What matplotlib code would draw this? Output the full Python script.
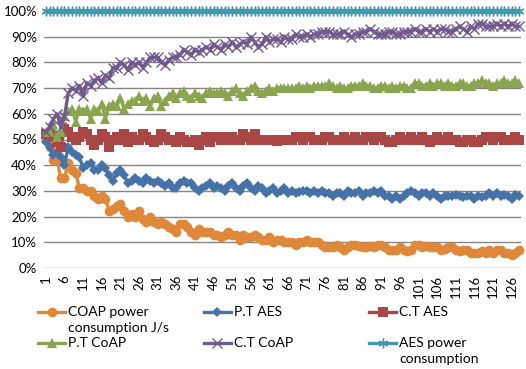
import matplotlib
matplotlib.use('Agg')
import matplotlib.pyplot as plt
from matplotlib.lines import Line2D
from matplotlib.ticker import PercentFormatter
import numpy as np

plt.rcParams['font.family'] = ['Lato', 'DejaVu Sans']

# values (percent)
coap_power = [
    50, 47, 42, 42, 35, 35, 41, 38, 37, 31,
    31, 30, 30, 28, 27, 28, 27, 22, 23, 24,
    25, 22, 20, 21, 20, 22, 19, 18, 20, 18,
    17, 18, 17, 16, 15, 14, 17, 17, 16, 14,
    13, 15, 14, 14, 14, 13, 13, 12, 13, 14,
    13, 13, 11, 13, 12, 12, 13, 12, 11, 11,
    12, 10, 11, 11, 10, 10, 10, 9, 10, 10,
    11, 10, 10, 10, 9, 8, 8, 8, 9, 8,
    7, 8, 9, 9, 8.5, 8, 8, 8.5, 8, 9,
    9, 8, 7, 7, 7, 8, 7, 6.5, 7, 9,
    9, 8, 8.5, 8, 8, 8, 7, 7.5, 8, 8,
    7, 6.5, 7, 7, 6, 6, 6, 6.5, 6, 7,
    6, 7, 7, 6, 6, 5, 6, 7]

pt_aes = [
    49, 47, 44, 45, 43, 40, 47, 45, 44, 43,
    39, 40, 41, 38, 38, 40, 39, 36, 34, 37,
    38, 36, 33, 34, 35, 34, 33, 35, 34, 33,
    34, 33, 32, 33, 31, 31, 33, 34, 33, 33,
    31, 30, 31, 32, 33, 31, 32, 31, 30, 32,
    33, 31, 30, 32, 33, 31, 30, 32, 31, 29,
    30, 31, 29, 30, 31, 29, 30, 29, 29.5, 30,
    30, 29, 30, 29, 30, 29, 29, 28, 29, 29,
    28, 30, 29, 29, 30, 28, 29, 29, 30, 29,
    30, 28, 28, 27, 28, 27, 28, 29, 30, 29,
    28, 29, 29, 28, 29, 28, 27, 28, 28, 28,
    28.5, 28, 27.5, 28, 28, 27, 28, 27.5, 28, 29,
    28, 29, 28, 28.5, 28, 27, 28.5, 28]

ct_aes = [
    52, 52, 51, 49, 47, 54, 53, 51, 50, 51,
    53, 52, 50, 48, 50, 52, 51, 47, 50, 51,
    50, 52, 49, 51, 50, 50, 52, 51, 50, 49,
    50, 52, 51, 50, 50, 49, 51, 50, 49, 49,
    50, 48, 50, 51, 49, 51, 51, 50, 51, 50,
    51, 50, 50, 52, 51, 50, 52, 50, 50, 50,
    50, 50, 49.5, 50, 50, 50, 50, 51, 51, 50,
    51, 51, 50, 50, 50, 51, 51, 50, 50, 50,
    51, 50, 50, 51, 50, 50, 51, 51, 50, 51,
    51, 50, 49, 49, 50, 51, 50, 50, 51, 50,
    50, 51, 50, 49, 50, 51, 50, 50, 51, 50,
    50, 49, 49, 50, 50, 49, 49, 50, 51, 51,
    50, 51, 51, 50, 50, 50, 51, 50]

pt_coap = [
    53, 53, 56, 51, 53, 59, 61, 62, 57, 62,
    61, 62, 58, 62, 61, 64, 58, 63, 64, 63,
    66, 62, 64, 65, 65, 67, 65, 66, 63, 66,
    67, 63, 65, 67, 68, 66, 68, 69, 67, 66,
    68, 67, 66, 68, 69, 68, 68, 69, 68, 67,
    69, 70, 68, 67, 69, 70, 71, 69, 68, 69,
    70, 69, 70, 70, 70, 70, 70, 70, 71, 70,
    71, 70, 71, 71, 71, 71, 72, 71, 70, 71,
    70, 70, 71, 71, 71, 72, 71, 71, 70, 70,
    71, 71, 70, 71, 70, 71, 71, 70, 70, 72,
    72, 71, 71, 72, 71, 72, 72, 71, 72, 71,
    71, 72, 72, 71, 71, 72, 72, 73, 72, 72,
    71, 72, 72, 73, 72, 72, 73, 72]

ct_coap = [
    53, 55, 58, 60, 55, 59, 68, 70, 69, 71,
    67, 72, 71, 73, 74, 72, 75, 74, 78, 78,
    80, 79, 77, 80, 79, 80, 78, 80, 82, 82,
    82, 80, 79, 81, 82, 82, 83, 85, 84, 83,
    85, 84, 85, 86, 85, 87, 86, 85, 87, 86,
    88, 86, 87, 88, 87, 90, 88, 86, 87, 90,
    88, 89, 89, 88, 90, 89, 89, 91, 90, 90,
    91, 90, 91, 91, 92, 92, 92, 91, 91, 91,
    92, 91, 90, 91, 91, 92, 92, 93, 92, 91,
    91, 91, 92, 92, 91, 91, 92, 92, 92, 93,
    92, 92, 93, 92, 93, 92, 93, 93, 92, 92,
    93, 94, 93, 92, 94, 93, 95, 95, 94, 94,
    94, 95, 94, 95, 94, 95, 94, 94]

aes_power = [100] * 128

labels = ['COAP power\nconsumption J/s', 'P.T AES', 'C.T AES',
          'P.T CoAP', 'C.T CoAP', 'AES power\nconsumption']

series = [coap_power, pt_aes, ct_aes, pt_coap, ct_coap, aes_power]
colors = ['#E0883A', '#4572A7', '#AA4643', '#89A54E', '#71588F', '#4198AF']
markers = ['o', 'D', 's', '^', 'x', (6, 2, 0)]
msizes = [7, 5.5, 6.5, 7.5, 7, 7]
medge = [0, 0, 0, 0, 1.0, 1.0]

fig = plt.figure(figsize=(5.26, 3.69), dpi=100)
ax = fig.add_axes([44 / 526, 1 - 268 / 369, (521 - 44) / 526, (268 - 11) / 369])

for s, c, m, ms, me in zip(series, colors, markers, msizes, medge):
    x = np.arange(1, len(s) + 1)
    y = np.array(s) / 100.0
    ax.plot(x, y, color=c, lw=2.4, marker=m, ms=ms,
            mec=c if me > 0 else 'none', mew=me, clip_on=False, zorder=3)

ax.set_xlim(0.5, 128.5)
ax.set_ylim(0, 1)
ax.set_yticks(np.arange(0, 1.01, 0.1))
ax.yaxis.set_major_formatter(PercentFormatter(1.0, decimals=0))
ax.set_xticks(range(1, 129, 5))
ax.set_xticklabels([str(i) for i in range(1, 129, 5)], rotation=90)
ax.tick_params(axis='both', length=0, labelsize=9.5, colors='#000000')
ax.tick_params(axis='y', pad=5)
ax.tick_params(axis='x', pad=5)
ax.grid(axis='y', color='#868686', lw=1.0)
ax.set_axisbelow(True)
for sp in ax.spines.values():
    sp.set_visible(False)

# legend drawn by hand, three columns, row-wise like the original
W, H = 526.0, 369.0
col_x = [38, 204, 369]
row_y = [312, 343]
for i, (lab, c, m, ms, me) in enumerate(zip(labels, colors, markers, msizes, medge)):
    cx = col_x[i % 3]
    ry = row_y[i // 3]
    x0, x1 = cx / W, (cx + 27) / W
    yy = 1 - ry / H
    ln = Line2D([x0, (x0 + x1) / 2, x1], [yy, yy, yy], transform=fig.transFigure,
                color=c, lw=2.4, marker=m, ms=ms, mec=c if me > 0 else 'none',
                mew=me, markevery=[1])
    fig.add_artist(ln)
    for k, part in enumerate(lab.split('\n')):
        fig.text((cx + 30) / W, 1 - (ry + 16 * k) / H, part, fontsize=10,
                 va='center', ha='left')

fig.savefig('out.png', dpi=100)
